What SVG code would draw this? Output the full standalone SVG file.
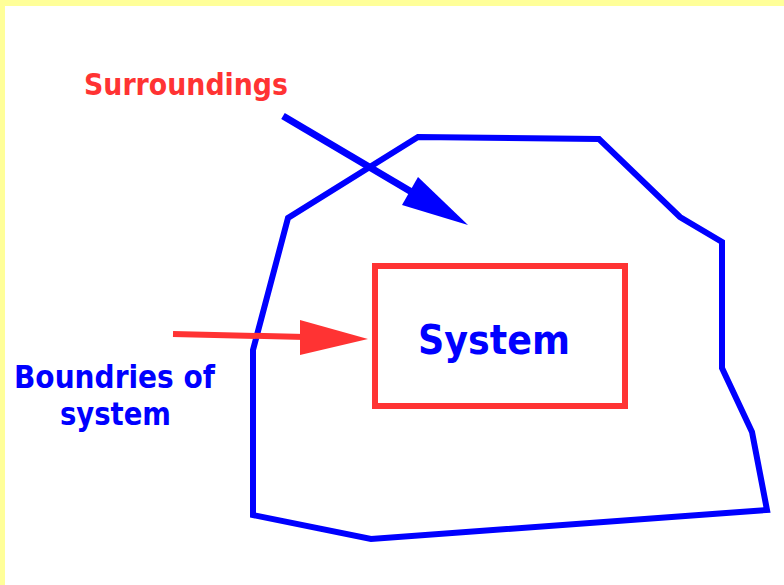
<svg xmlns="http://www.w3.org/2000/svg" width="784" height="585" viewBox="0 0 784 585">
<defs>
<style>
.lbl{font-family:"DejaVu Sans","Liberation Sans",sans-serif;font-weight:bold;}
.blue{fill:#0000FF;}
.red{fill:#FF3333;}
</style>
</defs>
<rect x="0" y="0" width="784" height="585" fill="#FFFFFF"/>
<rect x="0" y="0" width="784" height="6" fill="#FFFF99"/>
<rect x="0" y="0" width="5" height="585" fill="#FFFF99"/>
<g id="boundary">
<polygon points="418,137 599,139 680,217 722,242 722,368 752,432 767,510 371,539 253,515 253,350 288,218" fill="none" stroke="#0000FF" stroke-width="6" stroke-linejoin="miter"/>
</g>
<g id="system">
<rect x="375" y="266" width="250" height="140" fill="none" stroke="#FF3333" stroke-width="6"/>
<text class="lbl blue" x="418" y="354" font-size="40" textLength="152" lengthAdjust="spacingAndGlyphs">System</text>
</g>
<g id="surroundings">
<text class="lbl red" x="84" y="95" font-size="30" textLength="204" lengthAdjust="spacingAndGlyphs">Surroundings</text>
</g>
<g id="boundries">
<text class="lbl blue" x="14" y="388" font-size="32" textLength="201" lengthAdjust="spacingAndGlyphs">Boundries of</text>
<text class="lbl blue" x="60" y="425" font-size="32" textLength="111" lengthAdjust="spacingAndGlyphs">system</text>
</g>
<g id="connectors">
<line x1="283" y1="116" x2="415" y2="194" stroke="#0000FF" stroke-width="7"/>
<polygon points="468,225 402,205 418,177" fill="#0000FF"/>
<line x1="173" y1="334" x2="305" y2="337" stroke="#FF3333" stroke-width="6"/>
<polygon points="368,339 300,320 300,355" fill="#FF3333"/>
</g>
</svg>
